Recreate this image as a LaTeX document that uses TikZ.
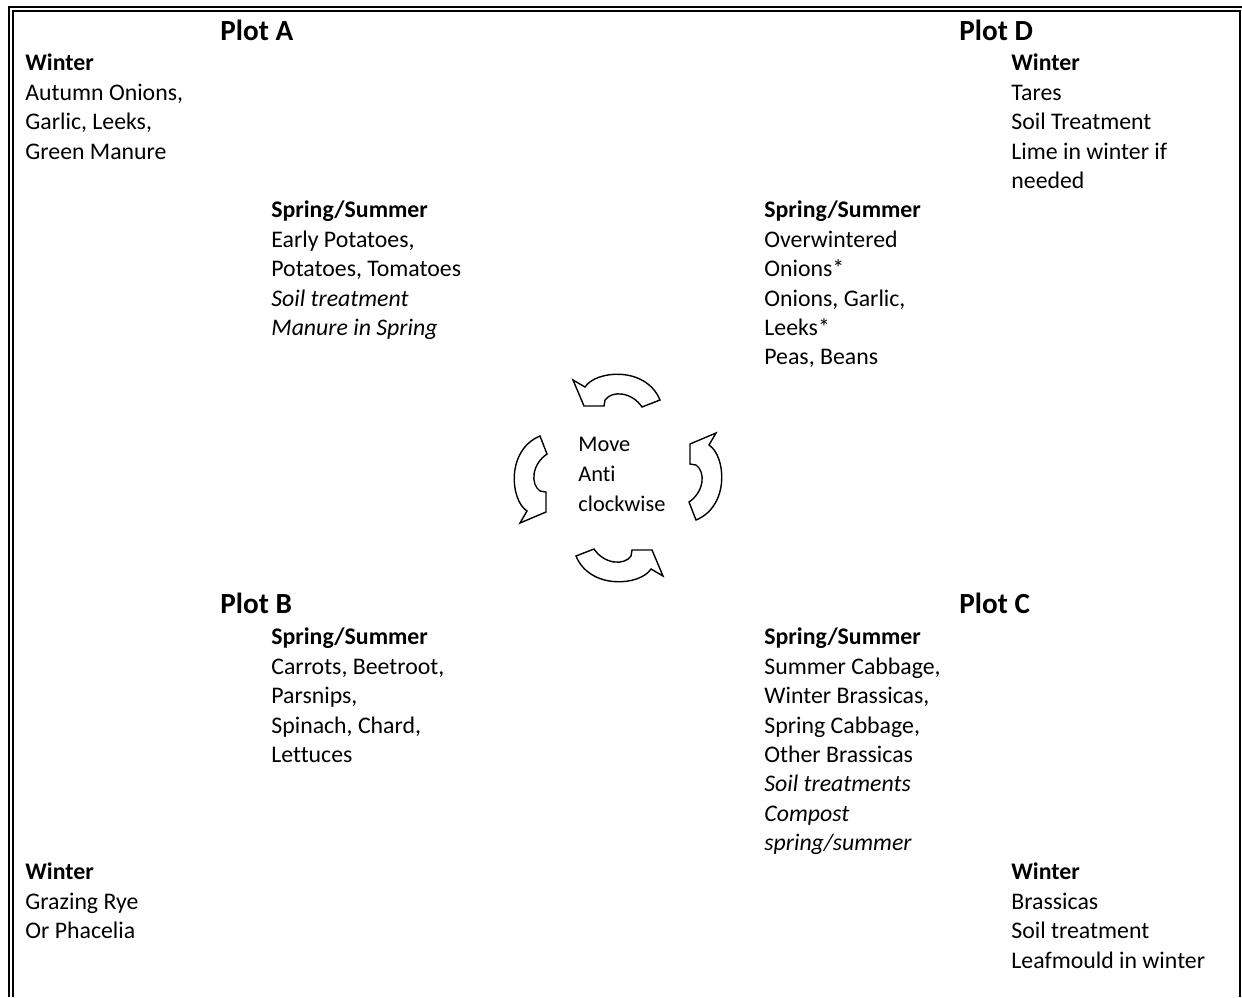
\documentclass[tikz,border=0pt]{standalone}
\usepackage{fontspec}
\setmainfont{Carlito}[Ligatures=NoCommon]

\begin{document}
\begin{tikzpicture}[x=0.5pt, y=-0.5pt,
  every node/.style={inner sep=0pt},
  plotlabel/.style={anchor=base west, font=\fontsize{14.6}{17}\selectfont\bfseries},
  cropblock/.style={anchor=north west, align=left, font=\fontsize{11.9}{14.7}\selectfont},
  turnarrow/.style={draw, line width=0.7pt, line join=miter}]

\useasboundingbox (0,0) rectangle (1242,997);

% Frame
\draw[line width=1pt] (9,997) -- (9,7) -- (1242,7);
\draw[line width=1pt] (13,997) -- (13,11) -- (1240,11) -- (1240,997);

% Plot A
\node[plotlabel] at (220,40) (plotA) {Plot A};
\node[cropblock] at (25,49.9) (winterA) {\strut\textbf{Winter}\\Autumn Onions,\\Garlic, Leeks,\\Green Manure};
\node[cropblock] at (271,196.9) (summerA) {\strut\textbf{Spring/Summer}\\Early Potatoes,\\Potatoes, Tomatoes\\\textit{Soil treatment}\\\textit{Manure in Spring}};

% Plot D
\node[plotlabel] at (959,40) (plotD) {Plot D};
\node[cropblock] at (1011,49.9) (winterD) {\strut\textbf{Winter}\\Tares\\Soil Treatment\\Lime in winter if\\needed};
\node[cropblock] at (764,196.9) (summerD) {\strut\textbf{Spring/Summer}\\Overwintered\\Onions*\\Onions, Garlic,\\Leeks*\\Peas, Beans};

% Centre
\node[anchor=north west, align=left, font=\fontsize{11.2}{15}\selectfont] at (578,430.5) (move) {\strut Move\\Anti\\clockwise};

% Rotation arrows
\foreach \turn in {0,90,180,270} {
  \draw[turnarrow, shift={(618,478)}, rotate=\turn] (-45,-98) -- (-33,-91)
    .. controls (-22,-108) and (28,-112) .. (42,-78) -- (24,-71)
    .. controls (14,-86) and (-6,-88) .. (-13,-78) -- (-14,-72) -- (-34,-72) -- cycle;
}

% Plot B
\node[plotlabel] at (220,613) (plotB) {Plot B};
\node[cropblock] at (271,623.9) (summerB) {\strut\textbf{Spring/Summer}\\Carrots, Beetroot,\\Parsnips,\\Spinach, Chard,\\Lettuces};
\node[cropblock] at (25,858.9) (winterB) {\strut\textbf{Winter}\\Grazing Rye\\Or Phacelia};

% Plot C
\node[plotlabel] at (959,613) (plotC) {Plot C};
\node[cropblock] at (764,623.9) (summerC) {\strut\textbf{Spring/Summer}\\Summer Cabbage,\\Winter Brassicas,\\Spring Cabbage,\\Other Brassicas\\\textit{Soil treatments}\\\textit{Compost}\\\textit{spring/summer}};
\node[cropblock] at (1011,858.9) (winterC) {\strut\textbf{Winter}\\Brassicas\\Soil treatment\\Leafmould in winter};

\end{tikzpicture}
\end{document}
